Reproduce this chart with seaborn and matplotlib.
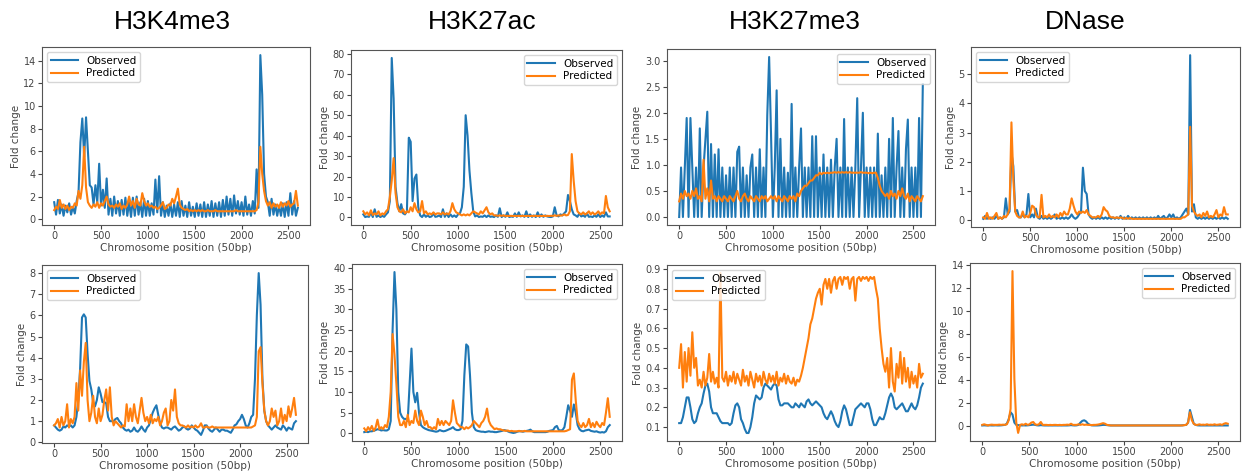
import numpy as np
import pandas as pd
import matplotlib
matplotlib.use("Agg")
import matplotlib.pyplot as plt
from matplotlib.ticker import MultipleLocator
import seaborn as sns

# ---------------- data (x = 0..2600 step 20) ----------------
positions = list(range(0, 2601, 20))
assays = ["H3K4me3", "H3K27ac", "H3K27me3", "DNase"]

h3k4me3_top_obs = [
    1.5, 0.4, 1.7, 0.5, 1.3, 0.3, 1.2, 0.6, 1.4, 0.4,
    1.1, 0.5, 1.6, 2.4, 6.8, 8.9, 5.5, 9.0, 6.0, 3.0,
    2.8, 1.3, 3.0, 1.5, 4.9, 1.2, 2.6, 1.0, 3.6, 0.4,
    1.8, 0.3, 2.0, 0.5, 1.6, 0.3, 1.7, 0.4, 1.9, 0.3,
    1.5, 0.2, 1.9, 0.3, 2.0, 0.4, 1.5, 0.2, 1.8, 0.3,
    1.6, 0.3, 1.4, 0.4, 3.5, 0.6, 3.8, 0.3, 1.5, 0.2,
    1.2, 0.3, 1.4, 0.2, 1.3, 0.3, 1.5, 0.2, 1.6, 0.3,
    1.2, 0.2, 1.5, 0.3, 1.1, 0.2, 1.4, 0.3, 1.3, 0.2,
    1.5, 0.2, 1.3, 0.3, 1.6, 0.2, 1.4, 0.3, 1.5, 0.2,
    1.7, 0.3, 2.0, 0.4, 1.8, 0.3, 2.1, 0.5, 1.6, 0.4,
    1.5, 0.3, 2.0, 0.4, 1.3, 0.3, 1.6, 0.5, 4.4, 1.0,
    14.5, 11.0, 4.0, 2.0, 1.5, 0.3, 1.8, 0.4, 1.3, 0.3,
    1.2, 0.3, 1.4, 0.2, 1.5, 0.3, 2.3, 0.4, 1.6, 0.3,
    1.0]
h3k4me3_top_pred = [
    0.8, 1.1, 0.9, 1.7, 1.0, 1.3, 0.9, 1.2, 0.8, 1.1,
    1.0, 1.4, 1.2, 2.5, 1.8, 3.0, 6.4, 2.8, 1.5, 1.2,
    1.0, 1.3, 1.1, 1.5, 1.0, 1.4, 1.2, 1.6, 2.0, 1.3,
    1.1, 1.2, 1.0, 1.3, 1.1, 1.4, 0.9, 1.2, 1.0, 1.3,
    2.0, 1.2, 1.6, 1.0, 1.8, 1.3, 1.2, 2.3, 1.6, 1.2,
    1.4, 1.1, 1.2, 1.0, 1.1, 0.9, 1.0, 1.2, 1.5, 0.9,
    1.0, 1.3, 1.2, 1.8, 1.4, 2.0, 2.7, 1.3, 1.0, 0.9,
    0.8, 0.9, 0.7, 0.8, 0.7, 0.8, 0.7, 0.8, 0.7, 0.8,
    0.7, 0.7, 0.8, 0.7, 0.7, 0.7, 0.8, 0.7, 0.7, 0.7,
    0.7, 0.7, 0.7, 0.7, 0.7, 0.7, 0.7, 0.8, 0.7, 0.7,
    0.7, 0.7, 0.7, 0.7, 0.7, 0.7, 0.7, 0.7, 0.8, 1.5,
    6.4, 4.0, 2.5, 1.6, 1.2, 1.5, 1.0, 1.4, 1.1, 1.3,
    1.0, 1.5, 1.1, 1.4, 1.2, 1.6, 1.1, 1.3, 1.4, 2.5,
    1.2]

h3k27ac_top_obs = [
    1.5, 0.2, 0.5, 0.3, 2.5, 0.2, 4.0, 0.3, 1.0, 0.2,
    0.8, 0.3, 1.5, 2.5, 8.0, 78.0, 58.0, 15.0, 7.0, 3.0,
    6.5, 2.0, 1.5, 3.0, 39.0, 37.0, 8.0, 19.0, 21.0, 5.0,
    1.0, 0.2, 1.5, 0.3, 1.0, 0.2, 0.5, 2.0, 0.3, 0.5,
    1.0, 0.2, 4.0, 0.3, 2.0, 0.2, 1.5, 0.3, 1.0, 0.2,
    1.5, 2.0, 5.0, 15.0, 50.0, 40.0, 23.0, 12.0, 3.0, 0.5,
    1.0, 0.2, 0.5, 0.3, 1.0, 0.2, 1.0, 0.3, 0.5, 0.2,
    1.0, 0.3, 4.5, 0.2, 1.0, 0.3, 2.5, 0.2, 0.5, 0.3,
    2.0, 0.3, 2.5, 0.5, 1.0, 0.3, 3.0, 0.2, 1.5, 0.3,
    1.0, 0.2, 2.5, 0.3, 1.5, 0.3, 1.0, 0.5, 0.3, 0.2,
    0.5, 5.0, 1.0, 0.5, 1.5, 1.0, 2.0, 3.0, 11.0, 8.0,
    4.0, 1.5, 1.0, 0.3, 2.0, 0.5, 1.0, 0.3, 2.0, 0.3,
    0.5, 0.2, 1.0, 0.3, 1.5, 0.2, 1.0, 0.3, 2.5, 0.5,
    0.5]
h3k27ac_top_pred = [
    3.0, 1.5, 2.5, 1.0, 3.5, 1.2, 2.0, 1.5, 3.0, 1.0,
    2.0, 1.5, 3.0, 4.0, 10.0, 18.0, 29.0, 12.0, 5.0, 3.0,
    2.5, 4.0, 2.0, 3.0, 2.5, 5.0, 3.0, 7.0, 4.0, 2.5,
    3.0, 8.0, 2.0, 3.0, 1.5, 2.0, 1.5, 2.5, 1.5, 2.0,
    2.0, 1.5, 2.5, 1.5, 2.0, 1.5, 3.0, 7.0, 4.0, 2.5,
    2.0, 1.5, 1.0, 1.5, 1.0, 1.5, 1.0, 2.0, 3.0, 2.5,
    2.0, 1.5, 3.0, 2.0, 3.5, 5.0, 2.5, 1.5, 2.0, 1.0,
    1.0, 0.8, 1.0, 0.8, 1.0, 0.7, 0.8, 0.7, 0.8, 0.7,
    0.8, 0.7, 0.8, 0.7, 0.8, 0.7, 0.7, 0.8, 0.7, 0.8,
    0.7, 0.8, 0.7, 0.8, 0.7, 0.8, 0.7, 0.8, 0.7, 0.8,
    0.8, 1.0, 0.8, 1.0, 0.9, 1.0, 1.5, 1.0, 1.2, 3.0,
    31.0, 18.0, 8.0, 3.0, 2.0, 1.5, 2.5, 1.5, 2.0, 3.0,
    1.5, 2.5, 1.5, 2.0, 3.0, 1.5, 2.5, 2.0, 10.5, 5.0,
    3.0]

h3k27me3_top_obs = [
    0.0, 0.95, 0.0, 0.95, 1.9, 0.0, 1.9, 0.95, 0.0, 0.95,
    0.0, 1.7, 0.0, 0.95, 1.5, 2.02, 0.0, 1.4, 0.0, 1.2,
    0.0, 1.3, 0.0, 0.95, 0.0, 0.8, 0.0, 0.95, 0.0, 0.95,
    0.0, 1.25, 1.35, 0.0, 0.95, 0.0, 0.8, 0.0, 0.95, 1.2,
    0.0, 0.95, 0.0, 1.3, 0.0, 0.95, 0.0, 1.95, 3.07, 1.6,
    0.0, 0.95, 2.43, 0.0, 1.5, 0.0, 0.95, 0.0, 0.85, 0.0,
    2.17, 0.0, 0.95, 0.0, 0.95, 1.7, 0.0, 0.95, 0.0, 0.95,
    0.0, 1.55, 0.0, 1.55, 0.0, 0.95, 0.0, 1.2, 0.0, 0.95,
    0.0, 1.1, 0.0, 0.95, 1.5, 0.0, 0.95, 0.0, 1.88, 0.0,
    0.95, 0.0, 0.95, 0.0, 0.95, 2.28, 0.0, 0.95, 2.0, 0.0,
    0.95, 0.0, 0.95, 0.0, 0.95, 0.0, 1.6, 0.0, 0.8, 0.0,
    0.95, 0.0, 1.5, 0.0, 1.9, 0.0, 0.95, 1.65, 0.0, 0.95,
    0.0, 1.3, 1.87, 0.0, 0.95, 0.0, 0.95, 0.0, 1.9, 0.0,
    2.55]
h3k27me3_top_pred = [
    0.3, 0.45, 0.35, 0.5, 0.4, 0.45, 0.35, 0.5, 0.4, 0.55,
    0.35, 0.4, 0.3, 1.1, 0.35, 0.55, 0.3, 0.7, 0.35, 0.4,
    0.3, 0.4, 0.35, 0.3, 0.4, 0.35, 0.3, 0.4, 0.35, 0.3,
    0.4, 0.5, 0.35, 0.3, 0.4, 0.45, 0.35, 0.3, 0.4, 0.35,
    0.3, 0.4, 0.35, 0.3, 0.4, 0.35, 0.4, 0.3, 0.35, 0.4,
    0.35, 0.4, 0.3, 0.4, 0.35, 0.3, 0.4, 0.35, 0.3, 0.4,
    0.35, 0.4, 0.3, 0.45, 0.4, 0.5, 0.55, 0.6, 0.6, 0.65,
    0.7, 0.7, 0.75, 0.8, 0.8, 0.85, 0.82, 0.85, 0.84, 0.85,
    0.84, 0.85, 0.85, 0.86, 0.85, 0.86, 0.85, 0.86, 0.85, 0.86,
    0.85, 0.86, 0.85, 0.85, 0.85, 0.85, 0.85, 0.86, 0.85, 0.85,
    0.85, 0.84, 0.85, 0.84, 0.85, 0.85, 0.75, 0.6, 0.5, 0.45,
    0.4, 0.45, 0.35, 0.5, 0.4, 0.45, 0.35, 0.5, 0.4, 0.55,
    0.4, 0.35, 0.45, 0.3, 0.4, 0.35, 0.3, 0.4, 0.35, 0.3,
    0.4]

dnase_top_obs = [
    0.05, 0.15, 0.05, 0.1, 0.05, 0.1, 0.05, 0.15, 0.05, 0.1,
    0.05, 0.1, 0.75, 0.2, 0.3, 2.3, 1.85, 0.3, 0.35, 0.1,
    0.1, 0.2, 0.1, 0.2, 0.9, 0.1, 0.2, 0.1, 0.4, 0.1,
    0.05, 0.15, 0.05, 0.1, 0.05, 0.1, 0.05, 0.1, 0.2, 0.05,
    0.1, 0.05, 0.1, 0.05, 0.1, 0.05, 0.1, 0.2, 0.1, 0.05,
    0.1, 0.2, 0.3, 1.8, 1.0, 0.9, 0.2, 0.1, 0.05, 0.1,
    0.05, 0.1, 0.05, 0.1, 0.05, 0.1, 0.05, 0.1, 0.05, 0.1,
    0.05, 0.1, 0.05, 0.15, 0.05, 0.1, 0.05, 0.15, 0.05, 0.1,
    0.05, 0.1, 0.05, 0.1, 0.05, 0.1, 0.05, 0.1, 0.05, 0.1,
    0.05, 0.1, 0.05, 0.15, 0.05, 0.1, 0.15, 0.05, 0.1, 0.2,
    0.1, 0.2, 0.05, 0.1, 0.05, 0.1, 0.2, 0.3, 0.4, 0.2,
    5.65, 0.3, 0.55, 0.1, 0.05, 0.1, 0.05, 0.1, 0.05, 0.1,
    0.05, 0.1, 0.05, 0.1, 0.05, 0.1, 0.05, 0.1, 0.05, 0.1,
    0.05]
dnase_top_pred = [
    0.1, 0.05, 0.25, 0.05, 0.1, 0.05, 0.15, 0.25, 0.05, 0.1,
    0.05, 0.15, 0.1, 0.2, 0.4, 3.35, 1.4, 0.3, 0.15, 0.1,
    0.1, 0.3, 0.1, 0.15, 0.1, 0.25, 0.5, 0.45, 0.2, 0.1,
    0.1, 0.87, 0.1, 0.15, 0.1, 0.2, 0.1, 0.15, 0.1, 0.2,
    0.1, 0.25, 0.15, 0.3, 0.2, 0.2, 0.4, 0.75, 0.5, 0.3,
    0.2, 0.3, 0.25, 0.3, 0.25, 0.35, 0.2, 0.15, 0.1, 0.1,
    0.1, 0.15, 0.1, 0.2, 0.45, 0.35, 0.3, 0.15, 0.1, 0.1,
    0.08, 0.1, 0.08, 0.1, 0.08, 0.05, 0.08, 0.05, 0.08, 0.05,
    0.05, 0.05, 0.05, 0.05, 0.05, 0.05, 0.05, 0.05, 0.05, 0.05,
    0.05, 0.05, 0.05, 0.05, 0.05, 0.05, 0.05, 0.05, 0.05, 0.05,
    0.05, 0.05, 0.05, 0.05, 0.05, 0.05, 0.1, 0.1, 0.15, 0.2,
    3.2, 0.5, 0.3, 0.2, 0.15, 0.2, 0.1, 0.25, 0.15, 0.3,
    0.1, 0.15, 0.1, 0.2, 0.35, 0.1, 0.2, 0.15, 0.45, 0.2,
    0.2]

h3k4me3_bot_obs = [
    0.8, 0.7, 0.6, 0.55, 0.6, 0.75, 0.7, 0.8, 0.75, 0.8,
    0.7, 0.8, 1.2, 2.0, 3.5, 5.9, 6.05, 5.9, 4.2, 2.9,
    2.5, 1.9, 1.7, 2.0, 2.6, 2.3, 1.9, 1.9, 1.85, 1.2,
    1.0, 1.0, 1.0, 1.1, 1.15, 1.0, 0.9, 0.7, 0.6, 0.55,
    0.6, 0.5, 0.55, 0.7, 0.55, 0.5, 0.6, 0.75, 0.6, 0.5,
    0.7, 0.8, 1.1, 1.4, 1.6, 1.75, 1.3, 0.9, 0.7, 0.65,
    0.7, 0.7, 0.65, 0.6, 0.7, 0.75, 0.65, 0.55, 0.6, 0.7,
    0.75, 0.65, 0.6, 0.65, 0.8, 0.7, 0.6, 0.55, 0.45, 0.35,
    0.55, 0.8, 0.8, 0.65, 0.55, 0.5, 0.6, 0.7, 0.6, 0.5,
    0.6, 0.6, 0.55, 0.55, 0.5, 0.45, 0.6, 0.8, 0.85, 1.0,
    1.1, 1.3, 1.1, 0.8, 0.7, 0.9, 1.2, 1.3, 3.0, 6.0,
    8.0, 6.5, 3.0, 1.5, 1.0, 0.8, 0.7, 0.6, 0.7, 0.8,
    0.7, 0.65, 0.6, 0.8, 0.7, 0.55, 0.7, 0.65, 0.6, 0.9,
    1.0]
h3k4me3_bot_pred = [
    0.8, 0.9, 1.1, 0.7, 1.2, 0.8, 1.0, 1.8, 0.7, 1.1,
    0.9, 1.2, 2.8, 1.5, 3.4, 2.2, 3.8, 4.7, 2.0, 1.0,
    1.4, 2.2, 1.2, 0.9, 1.6, 1.0, 1.3, 2.0, 2.5, 1.5,
    2.6, 1.2, 0.8, 1.0, 0.9, 0.8, 0.7, 0.8, 0.75, 1.8,
    1.0, 1.6, 1.0, 1.8, 1.2, 0.9, 1.5, 2.1, 1.4, 1.0,
    1.2, 0.9, 1.3, 0.9, 1.1, 1.0, 1.2, 0.8, 1.0, 1.4,
    1.6, 0.8, 1.0, 2.0, 1.5, 2.5, 1.2, 0.9, 0.8, 0.8,
    0.75, 0.7, 0.8, 0.7, 0.75, 0.7, 0.8, 0.7, 0.75, 0.9,
    0.7, 0.7, 0.75, 0.7, 0.7, 0.75, 0.7, 0.7, 0.7, 0.7,
    0.7, 0.7, 0.7, 0.7, 0.7, 0.7, 0.7, 0.7, 0.7, 0.7,
    0.7, 0.7, 0.7, 0.7, 0.7, 0.7, 0.7, 0.75, 0.8, 1.2,
    4.3, 4.5, 2.8, 1.5, 1.0, 0.8, 1.0, 1.6, 1.2, 1.5,
    0.8, 1.0, 1.6, 0.9, 1.3, 1.0, 1.7, 1.2, 1.6, 2.1,
    1.3]

h3k27ac_bot_obs = [
    0.3, 0.4, 0.3, 0.5, 0.5, 0.6, 0.8, 1.0, 0.9, 0.7,
    0.8, 0.7, 0.7, 1.0, 3.0, 25.0, 39.0, 30.0, 10.0, 5.0,
    4.0, 3.5, 3.5, 3.0, 12.0, 20.5, 10.0, 7.5, 9.8, 5.0,
    2.0, 1.5, 1.2, 1.0, 0.8, 0.7, 0.6, 0.5, 0.4, 0.5,
    0.8, 0.6, 0.5, 0.6, 0.8, 1.0, 1.2, 1.5, 1.0, 0.8,
    0.8, 1.0, 3.0, 14.0, 21.5, 21.0, 14.0, 5.0, 1.5, 0.8,
    0.6, 0.5, 0.4, 0.4, 0.3, 0.4, 0.5, 0.4, 0.4, 0.3,
    0.3, 0.4, 0.5, 0.6, 0.8, 0.7, 0.5, 0.3, 0.2, 0.1,
    0.2, 0.4, 0.5, 0.5, 0.4, 0.5, 0.6, 0.7, 0.9, 0.5,
    0.3, 0.3, 0.3, 0.3, 0.3, 0.3, 0.3, 0.4, 0.6, 0.7,
    0.8, 1.5, 1.8, 0.8, 0.7, 0.8, 1.5, 4.0, 6.8, 5.5,
    4.0, 7.0, 5.0, 2.0, 1.0, 0.6, 0.5, 0.7, 0.8, 0.9,
    0.6, 0.5, 0.4, 0.5, 0.3, 0.2, 0.3, 0.2, 0.5, 1.5,
    2.0]
h3k27ac_bot_pred = [
    1.2, 0.5, 1.5, 0.8, 1.8, 0.6, 1.4, 3.3, 1.0, 1.5,
    1.0, 2.0, 1.5, 4.0, 10.0, 24.0, 19.0, 12.0, 4.0, 2.0,
    2.0, 3.0, 1.5, 4.5, 2.0, 3.0, 2.5, 5.5, 3.0, 2.0,
    5.5, 4.0, 2.0, 3.0, 1.5, 1.5, 1.0, 1.5, 1.0, 3.5,
    2.0, 3.0, 2.0, 3.0, 2.5, 2.0, 3.0, 8.0, 5.0, 2.5,
    2.0, 1.5, 1.5, 1.0, 1.5, 1.2, 1.5, 2.0, 3.0, 2.5,
    2.0, 1.5, 2.5, 3.0, 4.0, 6.0, 3.0, 2.0, 1.5, 1.0,
    1.2, 1.0, 1.0, 0.8, 0.7, 0.6, 0.7, 0.5, 0.6, 0.5,
    0.5, 0.5, 0.6, 0.5, 0.5, 0.6, 0.5, 0.5, 0.5, 0.5,
    0.5, 0.5, 0.5, 0.5, 0.5, 0.5, 0.5, 0.5, 0.5, 0.5,
    0.5, 0.5, 0.5, 0.5, 0.5, 0.5, 0.5, 0.6, 0.8, 1.0,
    13.0, 14.5, 8.0, 3.0, 2.0, 1.5, 2.5, 1.5, 2.0, 3.5,
    1.5, 2.5, 1.5, 2.8, 2.0, 1.5, 2.5, 2.0, 5.0, 8.5,
    4.0]

h3k27me3_bot_obs = [
    0.12, 0.12, 0.15, 0.2, 0.25, 0.25, 0.2, 0.14, 0.12, 0.13,
    0.17, 0.2, 0.22, 0.27, 0.31, 0.32, 0.28, 0.2, 0.17, 0.17,
    0.17, 0.15, 0.13, 0.12, 0.12, 0.12, 0.12, 0.11, 0.12, 0.17,
    0.21, 0.22, 0.2, 0.14, 0.12, 0.09, 0.07, 0.07, 0.1, 0.15,
    0.22, 0.26, 0.25, 0.24, 0.25, 0.3, 0.32, 0.31, 0.3, 0.29,
    0.31, 0.32, 0.31, 0.24, 0.21, 0.21, 0.22, 0.22, 0.22, 0.21,
    0.2, 0.2, 0.22, 0.21, 0.2, 0.22, 0.21, 0.2, 0.23, 0.24,
    0.22, 0.21, 0.22, 0.23, 0.22, 0.21, 0.2, 0.17, 0.15, 0.14,
    0.16, 0.18, 0.16, 0.13, 0.11, 0.1, 0.13, 0.18, 0.21, 0.19,
    0.15, 0.11, 0.11, 0.15, 0.19, 0.2, 0.21, 0.22, 0.21, 0.2,
    0.22, 0.22, 0.19, 0.14, 0.11, 0.11, 0.13, 0.15, 0.14, 0.14,
    0.17, 0.21, 0.25, 0.27, 0.25, 0.2, 0.19, 0.2, 0.21, 0.22,
    0.2, 0.18, 0.18, 0.2, 0.22, 0.2, 0.19, 0.21, 0.25, 0.3,
    0.32]
h3k27me3_bot_pred = [
    0.4, 0.52, 0.3, 0.48, 0.33, 0.5, 0.36, 0.58, 0.4, 0.45,
    0.31, 0.34, 0.3, 0.38, 0.31, 0.35, 0.47, 0.33, 0.38, 0.32,
    0.35, 0.3, 0.88, 0.35, 0.33, 0.38, 0.31, 0.36, 0.33, 0.38,
    0.32, 0.37, 0.34, 0.31, 0.39, 0.33, 0.36, 0.31, 0.38, 0.34,
    0.3, 0.37, 0.33, 0.36, 0.31, 0.38, 0.34, 0.32, 0.37, 0.33,
    0.36, 0.32, 0.38, 0.31, 0.35, 0.33, 0.37, 0.32, 0.36, 0.33,
    0.32, 0.35, 0.31, 0.34, 0.33, 0.36, 0.4, 0.45, 0.5, 0.55,
    0.62, 0.65, 0.7, 0.75, 0.78, 0.8, 0.72, 0.82, 0.85, 0.8,
    0.85, 0.78, 0.84, 0.86, 0.8, 0.85, 0.86, 0.82, 0.86, 0.85,
    0.86, 0.8, 0.85, 0.86, 0.74, 0.85, 0.86, 0.84, 0.86, 0.85,
    0.86, 0.84, 0.86, 0.85, 0.86, 0.8, 0.75, 0.6, 0.5, 0.42,
    0.38, 0.45, 0.3, 0.5, 0.33, 0.28, 0.42, 0.35, 0.48, 0.32,
    0.45, 0.33, 0.4, 0.3, 0.38, 0.32, 0.36, 0.3, 0.42, 0.35,
    0.37]

dnase_bot_obs = [
    0.05, 0.06, 0.05, 0.05, 0.06, 0.05, 0.05, 0.06, 0.05, 0.05,
    0.06, 0.08, 0.1, 0.2, 0.6, 1.2, 1.0, 0.3, 0.1, 0.08,
    0.06, 0.05, 0.06, 0.05, 0.06, 0.08, 0.1, 0.12, 0.1, 0.06,
    0.05, 0.08, 0.06, 0.05, 0.05, 0.05, 0.05, 0.05, 0.05, 0.05,
    0.05, 0.05, 0.05, 0.05, 0.05, 0.05, 0.06, 0.08, 0.06, 0.05,
    0.06, 0.1, 0.3, 0.45, 0.5, 0.4, 0.2, 0.1, 0.06, 0.05,
    0.05, 0.05, 0.06, 0.08, 0.1, 0.1, 0.08, 0.06, 0.05, 0.05,
    0.05, 0.05, 0.05, 0.05, 0.05, 0.05, 0.05, 0.05, 0.05, 0.05,
    0.05, 0.05, 0.05, 0.05, 0.05, 0.05, 0.05, 0.05, 0.05, 0.05,
    0.05, 0.05, 0.05, 0.05, 0.05, 0.05, 0.05, 0.05, 0.05, 0.05,
    0.05, 0.05, 0.05, 0.05, 0.05, 0.05, 0.06, 0.08, 0.1, 0.3,
    1.4, 0.8, 0.2, 0.1, 0.06, 0.05, 0.05, 0.05, 0.05, 0.05,
    0.05, 0.05, 0.05, 0.05, 0.05, 0.05, 0.05, 0.05, 0.05, 0.05,
    0.05]
dnase_bot_pred = [
    0.1, 0.15, 0.1, 0.05, 0.1, 0.12, 0.1, 0.1, 0.1, 0.12,
    0.1, 0.12, 0.1, 0.15, 0.5, 1.5, 13.5, 4.1, 0.3, -0.6,
    0.1, 0.15, 0.1, 0.2, 0.1, 0.15, 0.3, 0.35, 0.15, 0.1,
    0.15, 0.35, 0.1, 0.1, 0.1, 0.08, 0.1, 0.08, 0.1, 0.1,
    0.08, 0.1, 0.08, 0.1, 0.1, 0.12, 0.1, 0.2, 0.1, 0.1,
    0.1, 0.15, 0.1, 0.15, 0.1, 0.12, 0.1, 0.1, 0.08, 0.1,
    0.1, 0.12, 0.15, 0.2, 0.25, 0.2, 0.1, 0.08, 0.05, 0.05,
    0.05, 0.05, 0.05, 0.05, 0.05, 0.05, 0.05, 0.05, 0.05, 0.05,
    0.05, 0.05, 0.05, 0.05, 0.05, 0.05, 0.05, 0.05, 0.05, 0.05,
    0.05, 0.05, 0.05, 0.05, 0.05, 0.05, 0.05, 0.05, 0.05, 0.05,
    0.05, 0.05, 0.05, 0.05, 0.05, 0.05, 0.05, 0.08, 0.1, 0.3,
    1.2, 0.5, 0.2, 0.1, 0.1, 0.15, 0.1, 0.12, 0.1, 0.15,
    0.1, 0.12, 0.1, 0.15, 0.1, 0.12, 0.15, 0.1, 0.2, 0.25,
    0.2]

top_row = [(h3k4me3_top_obs, h3k4me3_top_pred), (h3k27ac_top_obs, h3k27ac_top_pred),
           (h3k27me3_top_obs, h3k27me3_top_pred), (dnase_top_obs, dnase_top_pred)]
bottom_row = [(h3k4me3_bot_obs, h3k4me3_bot_pred), (h3k27ac_bot_obs, h3k27ac_bot_pred),
              (h3k27me3_bot_obs, h3k27me3_bot_pred), (dnase_bot_obs, dnase_bot_pred)]

# ---------------- layout ----------------
W, H = 1243, 472
fig = plt.figure(figsize=(W / 100, H / 100), dpi=100)
fig.patch.set_facecolor("white")

# axes boxes in pixels: (left, top, right, bottom)
top_boxes = [(42, 47, 310, 225), (351, 50, 622, 225), (667, 49, 935, 225), (971, 47, 1240, 227)]
bot_boxes = [(42, 265, 308, 443), (352, 264, 622, 441), (667, 265, 935, 441), (970, 263, 1240, 441)]
top_legend = ["upper left", "upper right", "upper right", "upper left"]
bot_legend = ["upper left", "upper right", "upper left", "upper right"]
top_ystep = [2, 10, 0.5, 1]
bot_ystep = [1, 5, 0.1, 2]
title_x = [172, 482, 795, 1085]

BLUE = "#1f77b4"
ORANGE = "#ff7f0e"


def rect(b):
    l, t, r, btm = b
    return [l / W, 1 - btm / H, (r - l) / W, (btm - t) / H]


def draw(ax, obs, pred, loc, ystep):
    df = pd.DataFrame({"pos": positions, "Observed": obs, "Predicted": pred})
    sns.lineplot(data=df, x="pos", y="Observed", ax=ax, color=BLUE, lw=1.5,
                 label="Observed", estimator=None, sort=False)
    sns.lineplot(data=df, x="pos", y="Predicted", ax=ax, color=ORANGE, lw=1.5,
                 label="Predicted", estimator=None, sort=False)
    ax.set_xlabel("Chromosome position (50bp)", fontsize=7.5, color="#444444", labelpad=1)
    ax.set_ylabel("Fold change", fontsize=7.5, color="#444444", labelpad=2)
    ax.set_xticks([0, 500, 1000, 1500, 2000, 2500])
    ax.yaxis.set_major_locator(MultipleLocator(ystep))
    ax.tick_params(labelsize=7, length=3, pad=1.5, colors="#444444")
    for s in ax.spines.values():
        s.set_color("#555555")
        s.set_linewidth(0.8)
    ax.legend(loc=loc, fontsize=7.5, frameon=True, handlelength=2.6,
              borderpad=0.35, labelspacing=0.25, handletextpad=0.8)


for i in range(4):
    ax = fig.add_axes(rect(top_boxes[i]))
    draw(ax, top_row[i][0], top_row[i][1], top_legend[i], top_ystep[i])
    ax2 = fig.add_axes(rect(bot_boxes[i]))
    draw(ax2, bottom_row[i][0], bottom_row[i][1], bot_legend[i], bot_ystep[i])
    fig.text(title_x[i] / W, 1 - 22 / H, assays[i], ha="center", va="center",
             fontsize=19, family=["Liberation Sans Narrow", "Liberation Sans", "DejaVu Sans"])

fig.savefig("out.png", dpi=100, facecolor="white")
